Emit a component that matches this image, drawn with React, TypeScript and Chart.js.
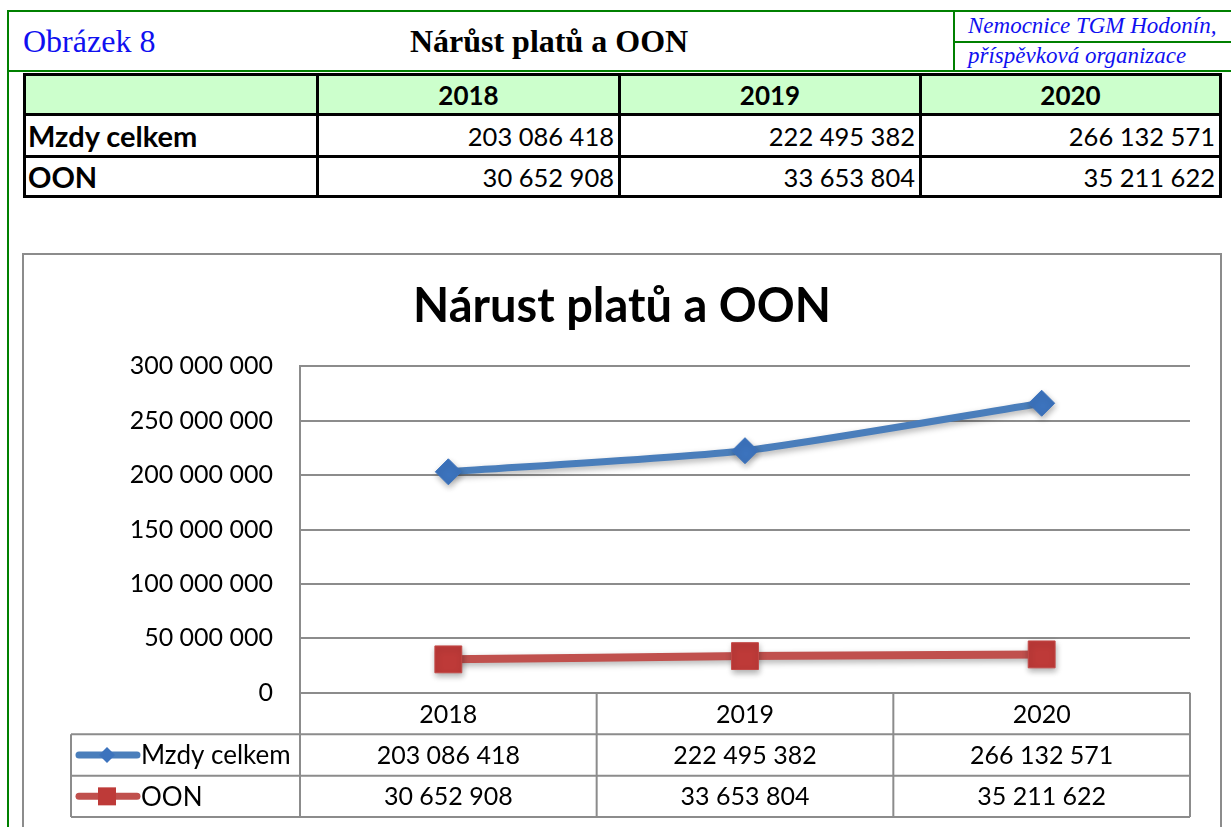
import React, { useEffect, useRef } from "react";
import { Chart, registerables } from "chart.js";

Chart.register(...registerables);

const categories = ["2018", "2019", "2020"];
const seriesNames = ["Mzdy celkem", "OON"];
const mzdyValues = [203086418, 222495382, 266132571];
const oonValues = [30652908, 33653804, 35211622];
const yMax = 300000000;
const yStep = 50000000;
const chartTitle = "Nárust platů a OON";
const pageTitle = "Nárůst platů a OON";
const figureLabel = "Obrázek 8";
const orgLine1 = "Nemocnice TGM Hodonín,";
const orgLine2 = "příspěvková organizace";

const fmt = (n: number) => String(Math.round(n)).replace(/\B(?=(\d{3})+(?!\d))/g, " ");

const BLUE_LINE = "#4A7EBB";
const BLUE_MARK = "#3C73BD";
const RED_LINE = "#C0504D";
const RED_MARK = "#BE3A38";
const GRID = "#8c8c8c";
const FONT = "Lato, 'Open Sans', sans-serif";

const tablePlugin = {
  id: "dataTable",
  afterDraw(chart: any) {
    const ctx = chart.ctx;
    const { left, right, bottom } = chart.chartArea;
    const xs = chart.scales.x;
    const n = categories.length;
    const w = (right - left) / n;
    const r1 = bottom + 41.6;
    const r2 = r1 + 41.4;
    const r3 = r2 + 41.3;
    const tableLeft = 71;
    ctx.save();
    ctx.strokeStyle = GRID;
    ctx.lineWidth = 2;
    ctx.beginPath();
    for (let i = 0; i <= n; i++) {
      const x = left + i * w;
      ctx.moveTo(x, bottom);
      ctx.lineTo(x, r3);
    }
    ctx.moveTo(tableLeft, r1);
    ctx.lineTo(tableLeft, r3);
    [r1, r2, r3].forEach((y) => {
      ctx.moveTo(tableLeft, y);
      ctx.lineTo(right, y);
    });
    ctx.stroke();

    const rows = [
      { name: seriesNames[0], vals: mzdyValues, line: BLUE_LINE, mark: BLUE_MARK, style: "diamond", y: (r1 + r2) / 2 },
      { name: seriesNames[1], vals: oonValues, line: RED_LINE, mark: RED_MARK, style: "square", y: (r2 + r3) / 2 },
    ];
    rows.forEach((r) => {
      ctx.strokeStyle = r.line;
      ctx.lineWidth = 7;
      ctx.lineCap = "round";
      ctx.beginPath();
      ctx.moveTo(tableLeft + 8, r.y);
      ctx.lineTo(tableLeft + 66, r.y);
      ctx.stroke();
      ctx.fillStyle = r.mark;
      ctx.beginPath();
      const cx = tableLeft + 36;
      if (r.style === "diamond") {
        ctx.moveTo(cx, r.y - 8);
        ctx.lineTo(cx + 8, r.y);
        ctx.lineTo(cx, r.y + 8);
        ctx.lineTo(cx - 8, r.y);
        ctx.closePath();
      } else {
        ctx.rect(cx - 9, r.y - 9, 18, 18);
      }
      ctx.fill();
      ctx.fillStyle = "#000";
      ctx.textBaseline = "middle";
      ctx.textAlign = "left";
      ctx.font = `26px ${FONT}`;
      ctx.fillText(r.name, tableLeft + 70, r.y + 1);
      ctx.font = `25px ${FONT}`;
      ctx.textAlign = "center";
      r.vals.forEach((v, i) => {
        ctx.fillText(fmt(v), xs.getPixelForValue(i), r.y + 1);
      });
    });
    ctx.restore();
  },
};

const shadowPlugin = {
  id: "lineShadow",
  beforeDatasetsDraw(chart: any) {
    const c = chart.ctx;
    c.save();
    c.shadowColor = "rgba(0,0,0,0.3)";
    c.shadowBlur = 6;
    c.shadowOffsetX = 1;
    c.shadowOffsetY = 3;
  },
  afterDatasetsDraw(chart: any) {
    chart.ctx.restore();
  },
};

function ChartCanvas() {
  const ref = useRef<HTMLCanvasElement | null>(null);
  useEffect(() => {
    if (!ref.current) return;
    const chart = new Chart(ref.current, {
      type: "line",
      data: {
        labels: categories,
        datasets: [
          {
            label: seriesNames[0],
            data: mzdyValues,
            borderColor: BLUE_LINE,
            borderWidth: 7,
            pointStyle: "rectRot",
            pointRadius: 13,
            pointBackgroundColor: BLUE_MARK,
            pointBorderColor: BLUE_MARK,
            pointBorderWidth: 1,
            tension: 0.2,
          },
          {
            label: seriesNames[1],
            data: oonValues,
            borderColor: RED_LINE,
            borderWidth: 8,
            pointStyle: "rect",
            pointRadius: 19,
            pointBackgroundColor: RED_MARK,
            pointBorderColor: "#C44A48",
            pointBorderWidth: 1,
            tension: 0.2,
          },
        ],
      },
      options: {
        responsive: false,
        animation: false,
        devicePixelRatio: 1,
        layout: { padding: { left: 54, right: 41, top: 0, bottom: 0 } },
        plugins: {
          legend: { display: false },
          tooltip: { enabled: false },
          title: {
            display: true,
            text: chartTitle,
            color: "#000",
            font: { family: FONT, size: 47, weight: "bold" },
            padding: { top: 279, bottom: 31 },
          },
        },
        scales: {
          x: {
            offset: true,
            grid: { display: false },
            border: { display: false },
            ticks: { color: "#000", font: { family: FONT, size: 25 }, padding: -1, maxRotation: 0 },
            afterFit: (s: any) => {
              s.height = 134.3;
            },
          },
          y: {
            min: 0,
            max: yMax,
            ticks: {
              stepSize: yStep,
              color: "#000",
              font: { family: FONT, size: 25 },
              padding: 27,
              callback: (v: any) => fmt(Number(v)),
            },
            grid: { color: GRID, lineWidth: 2, drawTicks: false },
            border: { display: true, color: GRID, width: 2 },
            afterFit: (s: any) => {
              s.width = 246;
            },
          },
        },
      },
      plugins: [shadowPlugin, tablePlugin],
    } as any);
    return () => chart.destroy();
  }, []);
  return <canvas ref={ref} width={1231} height={827} style={{ position: "absolute", left: 0, top: 0, width: 1231, height: 827 }} />;
}

const abs = (s: React.CSSProperties): React.CSSProperties => ({ position: "absolute", ...s });

export default function App() {
  const green = "#008000";
  const colX = [23, 316, 618, 919, 1219];
  const rowY = [73, 113, 155, 195];
  const tableFont = "Lato, 'Open Sans', sans-serif";
  const rowsData = [
    { name: seriesNames[0], vals: mzdyValues },
    { name: seriesNames[1], vals: oonValues },
  ];
  return (
    <div style={abs({ left: 0, top: 0, width: 1231, height: 827, overflow: "hidden", background: "#fff" })}>
      <div style={abs({ left: 7, top: 10, width: 1224, height: 2, background: green })} />
      <div style={abs({ left: 7, top: 10, width: 2, height: 817, background: green })} />
      <div style={abs({ left: 7, top: 70, width: 1224, height: 2, background: green })} />
      <div style={abs({ left: 953, top: 10, width: 2, height: 61, background: green })} />
      <div style={abs({ left: 953, top: 41, width: 278, height: 2, background: green })} />
      <div style={abs({ left: 23, top: 25, fontFamily: "'Liberation Serif', serif", fontSize: 32, lineHeight: "32px", color: "#1010F0", whiteSpace: "nowrap" })}>{figureLabel}</div>
      <div style={abs({ left: 349, top: 25, width: 400, textAlign: "center", fontFamily: "'Liberation Serif', serif", fontWeight: "bold", fontSize: 32, lineHeight: "32px", color: "#000", whiteSpace: "nowrap" })}>{pageTitle}</div>
      <div style={abs({ left: 968, top: 14, fontFamily: "'Liberation Serif', serif", fontStyle: "italic", fontSize: 23, lineHeight: "23px", color: "#1010F0", whiteSpace: "nowrap" })}>{orgLine1}</div>
      <div style={abs({ left: 968, top: 44, fontFamily: "'Liberation Serif', serif", fontStyle: "italic", fontSize: 23, lineHeight: "23px", color: "#1010F0", whiteSpace: "nowrap" })}>{orgLine2}</div>
      <div style={abs({ left: colX[0], top: rowY[0], width: colX[4] + 3 - colX[0], height: rowY[1] - rowY[0], background: "#CCFFCC" })} />
      {colX.map((x, i) => (
        <div key={"v" + i} style={abs({ left: x, top: rowY[0], width: 3, height: rowY[3] + 3 - rowY[0], background: "#000" })} />
      ))}
      {rowY.map((y, i) => (
        <div key={"h" + i} style={abs({ left: colX[0], top: y, width: colX[4] + 3 - colX[0], height: 3, background: "#000" })} />
      ))}
      {categories.map((c, i) => (
        <div key={"c" + i} style={abs({ left: colX[i + 1] + 3, top: rowY[0] + 3, width: colX[i + 2] - colX[i + 1] - 3, height: rowY[1] - rowY[0] - 3, display: "flex", alignItems: "center", justifyContent: "center", fontFamily: tableFont, fontWeight: "bold", fontSize: 26 })}>{c}</div>
      ))}
      {rowsData.map((r, ri) => (
        <React.Fragment key={"r" + ri}>
          <div style={abs({ left: colX[0] + 5, top: rowY[ri + 1] + 3, height: rowY[ri + 2] - rowY[ri + 1] - 3, display: "flex", alignItems: "center", fontFamily: tableFont, fontWeight: "bold", fontSize: 29, whiteSpace: "nowrap" })}>{r.name}</div>
          {r.vals.map((v, i) => (
            <div key={i} style={abs({ left: colX[i + 1] + 3, top: rowY[ri + 1] + 3, width: colX[i + 2] - colX[i + 1] - 7, height: rowY[ri + 2] - rowY[ri + 1] - 3, display: "flex", alignItems: "center", justifyContent: "flex-end", fontFamily: tableFont, fontSize: 25.5, whiteSpace: "nowrap" })}>{fmt(v)}</div>
          ))}
        </React.Fragment>
      ))}
      <div style={abs({ left: 22, top: 253, width: 1200, height: 700, border: "2px solid #8c8c8c", boxSizing: "border-box" })} />
      <ChartCanvas />
    </div>
  );
}
